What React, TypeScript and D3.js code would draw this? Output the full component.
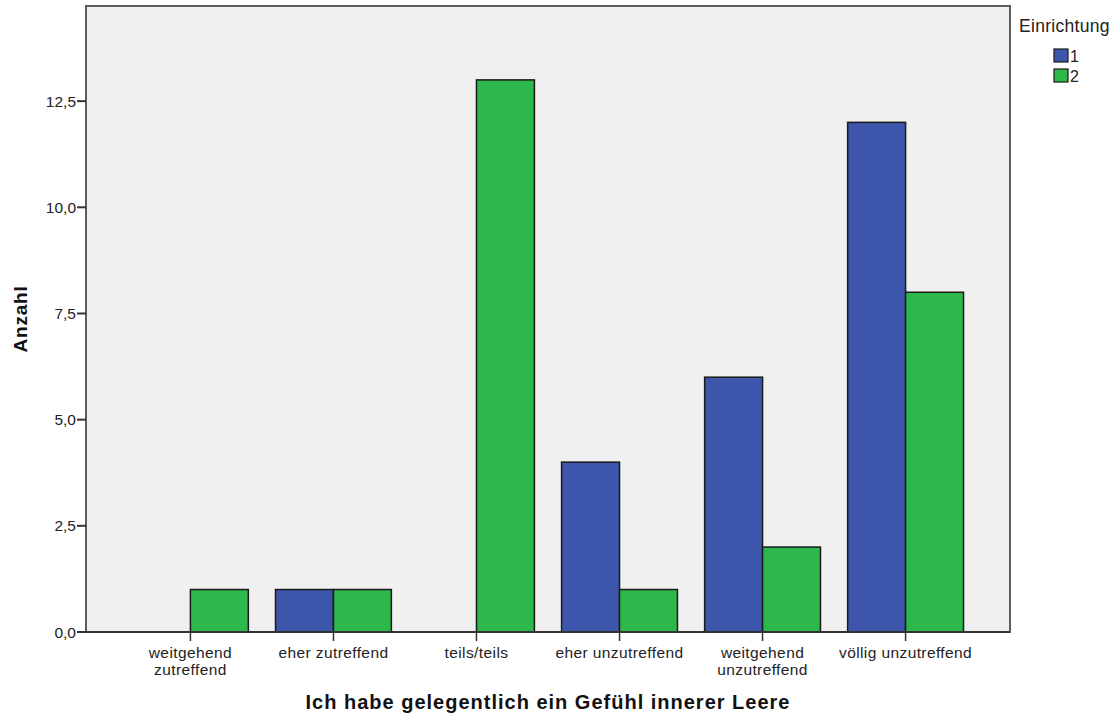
import * as d3 from 'd3'

const categories = [
  ['weitgehend', 'zutreffend'],
  ['eher zutreffend'],
  ['teils/teils'],
  ['eher unzutreffend'],
  ['weitgehend', 'unzutreffend'],
  ['völlig unzutreffend'],
]
const series = ['1', '2']
const values1 = [0, 1, 0, 4, 6, 12]
const values2 = [1, 1, 13, 1, 2, 8]
const yTicks = [0, 2.5, 5, 7.5, 10, 12.5]
const COLORS = ['#3d56ab', '#2db84b']

const W = 1120
const H = 716
const PLOT = { left: 86, right: 1010, top: 6, bottom: 632 }
const FONT = '"Liberation Sans", Arial, sans-serif'

export default function App() {
  const keys = categories.map((c) => c.join(' '))
  const x = d3
    .scaleBand<string>()
    .domain(keys)
    .range([PLOT.left, PLOT.right])
    .paddingInner(0.19)
    .paddingOuter(0.325)
  const xs = d3.scaleBand<string>().domain(series).range([0, x.bandwidth()])
  const y = d3.scaleLinear().domain([0, 14.74]).range([PLOT.bottom, PLOT.top])
  const fmt = (v: number) => v.toFixed(1).replace('.', ',')
  const data = [values1, values2]

  return (
    <svg width={W} height={H} style={{ position: 'absolute', left: 0, top: 0 }} fontFamily={FONT}>
      <rect
        x={PLOT.left}
        y={PLOT.top}
        width={PLOT.right - PLOT.left}
        height={PLOT.bottom - PLOT.top}
        fill="#f0f0f0"
        stroke="#5c5c5c"
        strokeWidth={2}
      />
      {keys.map((k, i) =>
        series.map((s, j) => {
          const v = data[j][i]
          const bx = (x(k) ?? 0) + (xs(s) ?? 0)
          return (
            <rect
              key={k + s}
              x={bx}
              y={y(v)}
              width={xs.bandwidth()}
              height={y(0) - y(v)}
              fill={COLORS[j]}
              stroke="#1a1a1a"
              strokeWidth={1.5}
            />
          )
        })
      )}
      <line x1={PLOT.left} x2={PLOT.right} y1={PLOT.bottom} y2={PLOT.bottom} stroke="#333" strokeWidth={2} />
      {yTicks.map((t) => (
        <g key={t}>
          <line x1={PLOT.left - 9} x2={PLOT.left} y1={y(t)} y2={y(t)} stroke="#333" strokeWidth={2} />
          <text x={PLOT.left - 10} y={y(t) + 5.5} textAnchor="end" fontSize={15.5} fill="#222">
            {fmt(t)}
          </text>
        </g>
      ))}
      {categories.map((c, i) => {
        const cx = (x(keys[i]) ?? 0) + x.bandwidth() / 2
        return (
          <g key={keys[i]}>
            <line x1={cx} x2={cx} y1={PLOT.bottom} y2={PLOT.bottom + 9} stroke="#333" strokeWidth={1.5} />
            {c.map((line, li) => (
              <text
                key={li}
                x={cx}
                y={658 + li * 17}
                textAnchor="middle"
                fontSize={15.5}
                letterSpacing={0.4}
                fill="#222"
              >
                {line}
              </text>
            ))}
          </g>
        )
      })}
      <text x={548} y={709} textAnchor="middle" fontSize={20} letterSpacing={1} fontWeight="bold" fill="#111">
        Ich habe gelegentlich ein Gefühl innerer Leere
      </text>
      <text
        transform={`translate(27,${(PLOT.top + PLOT.bottom) / 2}) rotate(-90)`}
        textAnchor="middle"
        fontSize={19}
        letterSpacing={0.8}
        fontWeight="bold"
        fill="#111"
      >
        Anzahl
      </text>
      <text x={1019} y={32} fontSize={17.5} letterSpacing={0.3} fill="#222">
        Einrichtung
      </text>
      {series.map((s, j) => (
        <g key={s}>
          <rect x={1054} y={49 + j * 20} width={14} height={13} fill={COLORS[j]} stroke="#1a1a1a" strokeWidth={1.2} />
          <text x={1070} y={62 + j * 20} fontSize={16} fill="#222">
            {s}
          </text>
        </g>
      ))}
    </svg>
  )
}
